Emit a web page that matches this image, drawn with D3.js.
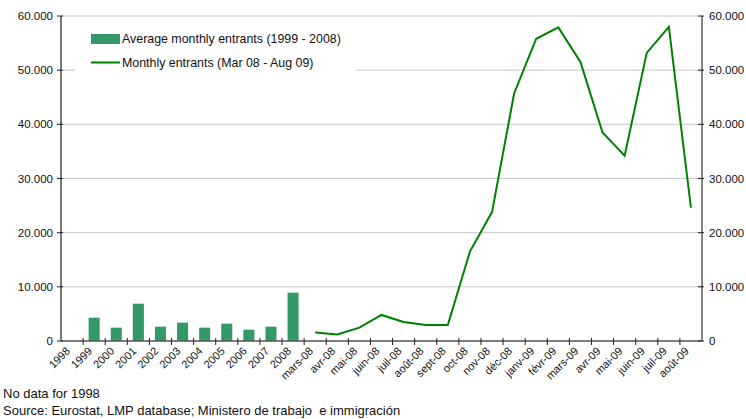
<!DOCTYPE html>
<html>
<head>
<meta charset="utf-8">
<script src="https://d3js.org/d3.v7.min.js"></script>
<style>
  body { margin: 0; background: #fff; }
  text { font-family: "Liberation Sans", Arial, sans-serif; fill: #111; }
</style>
</head>
<body>
<div id="container"></div>
<script>
// yearly averages (no data for 1998)
var years = ["1998","1999","2000","2001","2002","2003","2004","2005","2006","2007","2008"];
var avgValues = [null, 4300, 2460, 6890, 2640, 3380, 2460, 3200, 2090, 2640, 8920];

// monthly entrants Mar 08 - Aug 09
var months = ["mars-08","avr-08","mai-08","juin-08","juil-08","août-08","sept-08","oct-08","nov-08",
  "déc-08","janv-09","févr-09","mars-09","avr-09","mai-09","juin-09","juil-09","août-09"];
var monthValues = [1590, 1220, 2460, 4810, 3520, 2960, 2960, 16500, 23800,
  45700, 55800, 57900, 51500, 38500, 34200, 53200, 58000, 24600];

var yTicks = [0, 10000, 20000, 30000, 40000, 50000, 60000];

var width = 746, height = 419;
var margin = {left: 61, right: 44, top: 16, bottom: 78};

var categories = years.concat(months);

var x = d3.scaleBand()
  .domain(categories)
  .range([margin.left, width - margin.right])
  .padding(0);

var y = d3.scaleLinear()
  .domain([0, 60000])
  .range([height - margin.bottom, margin.top]);

var loc = d3.formatLocale({decimal: ",", thousands: ".", grouping: [3], currency: ["", ""]});
var fmt = loc.format(",");

var svg = d3.select("#container")
  .append("svg")
  .attr("width", width)
  .attr("height", height);

// gridlines
svg.append("g")
  .selectAll("line")
  .data(yTicks.filter(d => d > 0))
  .join("line")
    .attr("x1", margin.left)
    .attr("x2", width - margin.right)
    .attr("y1", d => y(d))
    .attr("y2", d => y(d))
    .attr("stroke", "#c8c8c8")
    .attr("stroke-width", 1);

// bars
var bw = x.bandwidth() * 0.5;
svg.append("g")
  .selectAll("rect")
  .data(years.map((c, i) => ({c: c, v: avgValues[i]})).filter(d => d.v != null))
  .join("rect")
    .attr("x", d => x(d.c) + (x.bandwidth() - bw) / 2)
    .attr("y", d => y(d.v))
    .attr("width", bw)
    .attr("height", d => y(0) - y(d.v))
    .attr("fill", "#339966");

// line
var line = d3.line()
  .x(d => x(d.c) + x.bandwidth() / 2)
  .y(d => y(d.v));

svg.append("path")
  .datum(months.map((c, i) => ({c: c, v: monthValues[i]})))
  .attr("d", line)
  .attr("fill", "none")
  .attr("stroke", "#008000")
  .attr("stroke-width", 2);

// axes
var axisColor = "#555";
var y0 = y(0);

// bottom axis
svg.append("line")
  .attr("x1", margin.left).attr("x2", width - margin.right)
  .attr("y1", y0).attr("y2", y0)
  .attr("stroke", axisColor).attr("stroke-width", 1.5);

svg.append("g")
  .selectAll("line")
  .data(categories.slice(1))
  .join("line")
    .attr("x1", d => x(d)).attr("x2", d => x(d))
    .attr("y1", y0 - 3).attr("y2", y0 + 4)
    .attr("stroke", "#222").attr("stroke-width", 1);

svg.append("g")
  .attr("font-size", 11)
  .selectAll("text")
  .data(categories)
  .join("text")
    .attr("text-anchor", "end")
    .attr("transform", d => `translate(${x(d) + x.bandwidth() / 2 - 4},${y0 + 8}) rotate(-45)`)
    .attr("dy", "0.35em")
    .text(d => d);

// left and right axes
[margin.left, width - margin.right].forEach(function(ax, k) {
  svg.append("line")
    .attr("x1", ax).attr("x2", ax)
    .attr("y1", margin.top).attr("y2", y0)
    .attr("stroke", k == 0 ? "#777" : "#333").attr("stroke-width", k == 0 ? 2 : 1.2);

  svg.append("g")
    .selectAll("line")
    .data(yTicks)
    .join("line")
      .attr("x1", ax - 4).attr("x2", ax + 2)
      .attr("y1", d => y(d)).attr("y2", d => y(d))
      .attr("stroke", "#222");

  svg.append("g")
    .attr("font-size", 11.5)
    .selectAll("text")
    .data(yTicks)
    .join("text")
      .attr("x", k == 0 ? ax - 8 : ax + 7)
      .attr("y", d => y(d))
      .attr("dy", "0.35em")
      .attr("text-anchor", k == 0 ? "end" : "start")
      .text(d => fmt(d));
});

// legend
var lg = svg.append("g");
lg.append("rect")
  .attr("x", 75).attr("y", 22).attr("width", 281).attr("height", 54)
  .attr("fill", "#fff");
lg.append("rect")
  .attr("x", 91).attr("y", 34).attr("width", 29).attr("height", 10)
  .attr("fill", "#339966");
lg.append("line")
  .attr("x1", 91).attr("x2", 120).attr("y1", 62.5).attr("y2", 62.5)
  .attr("stroke", "#008000").attr("stroke-width", 2);
lg.append("text")
  .attr("x", 122).attr("y", 39).attr("dy", "0.35em")
  .attr("font-size", 12.4)
  .text("Average monthly entrants (1999 - 2008)");
lg.append("text")
  .attr("x", 122).attr("y", 63).attr("dy", "0.35em")
  .attr("font-size", 12.4)
  .text("Monthly entrants (Mar 08 - Aug 09)");

// footnotes
svg.append("text")
  .attr("x", 3).attr("y", 398)
  .attr("font-size", 13)
  .text("No data for 1998");
svg.append("text")
  .attr("x", 3).attr("y", 415)
  .attr("font-size", 13)
  .style("white-space", "pre")
  .text("Source: Eurostat, LMP database; Ministero de trabajo  e immigración");
</script>
</body>
</html>
